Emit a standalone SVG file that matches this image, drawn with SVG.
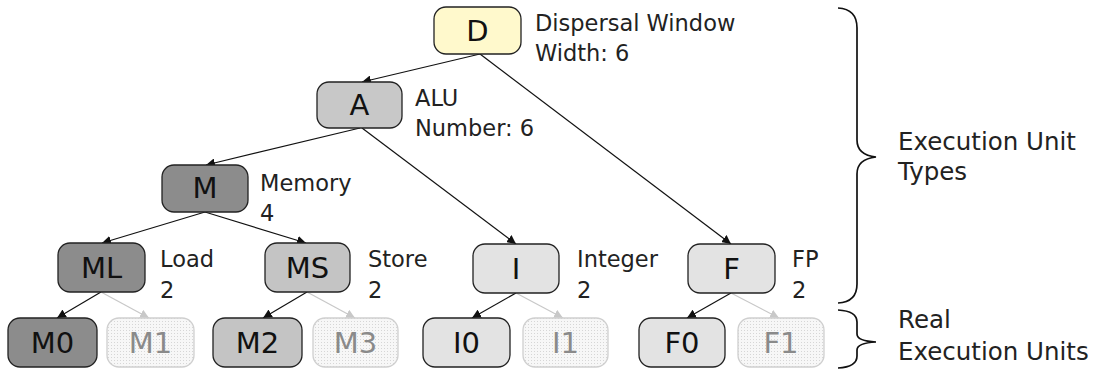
<svg xmlns="http://www.w3.org/2000/svg" width="1099" height="371" viewBox="0 0 1099 371">
<defs>
<marker id="ah" viewBox="0 0 10 10" refX="10" refY="5" markerWidth="9" markerHeight="9" markerUnits="userSpaceOnUse" orient="auto">
<path d="M0,0 L10,5 L0,10 z" fill="#111"/>
</marker>
<marker id="ahl" viewBox="0 0 10 10" refX="10" refY="5" markerWidth="9" markerHeight="9" markerUnits="userSpaceOnUse" orient="auto">
<path d="M0,0 L10,5 L0,10 z" fill="#c8c8c8"/>
</marker>
<pattern id="dots" width="3" height="3" patternUnits="userSpaceOnUse">
<rect width="3" height="3" fill="#f7f7f7"/>
<rect width="1" height="1" fill="#d6d6d6"/>
</pattern>
<style>
.box{stroke:#222;stroke-width:1.3}
.ghost{fill:url(#dots);stroke:#cfcfcf;stroke-width:1.3}
.nl{font-family:"DejaVu Sans",sans-serif;font-size:29px;fill:#111;text-anchor:middle}
.gl{font-family:"DejaVu Sans",sans-serif;font-size:29px;fill:#8a8a8a;text-anchor:middle}
.lb{font-family:"DejaVu Sans",sans-serif;font-size:22.5px;fill:#222}
.rb{font-family:"DejaVu Sans",sans-serif;font-size:24.5px;fill:#222}
.c{stroke:#111;stroke-width:1.2;fill:none;marker-end:url(#ah)}
.cl{stroke:#c8c8c8;stroke-width:1.2;fill:none;marker-end:url(#ahl)}
.br{stroke:#111;stroke-width:1.7;fill:none}
</style>
</defs>

<g id="connectors">
<line class="c" x1="480" y1="54" x2="362" y2="82"/>
<line class="c" x1="480" y1="54" x2="731" y2="244"/>
<line class="c" x1="360" y1="128" x2="206" y2="165"/>
<line class="c" x1="362" y1="128" x2="516" y2="244"/>
<line class="c" x1="205" y1="212" x2="102" y2="243"/>
<line class="c" x1="205" y1="212" x2="306" y2="243"/>
<line class="c" x1="101" y1="292" x2="57" y2="318"/>
<line class="cl" x1="101" y1="292" x2="149" y2="318"/>
<line class="c" x1="307" y1="292" x2="263" y2="318"/>
<line class="cl" x1="307" y1="292" x2="355" y2="318"/>
<line class="c" x1="516" y1="293" x2="472" y2="318"/>
<line class="cl" x1="516" y1="293" x2="563" y2="318"/>
<line class="c" x1="731" y1="293" x2="687" y2="318"/>
<line class="cl" x1="731" y1="293" x2="779" y2="318"/>
</g>

<g id="node-D">
<rect class="box" x="434" y="7" width="87" height="47" rx="12" fill="#fff9cc"/>
<text class="nl" x="477.5" y="41">D</text>
<text class="lb" x="535" y="31">Dispersal Window</text>
<text class="lb" x="535" y="61">Width: 6</text>
</g>
<g id="node-A">
<rect class="box" x="317" y="82" width="85" height="46" rx="12" fill="#c8c8c8"/>
<text class="nl" x="359.5" y="115">A</text>
<text class="lb" x="415" y="106">ALU</text>
<text class="lb" x="415" y="136">Number: 6</text>
</g>
<g id="node-M">
<rect class="box" x="162" y="165" width="86" height="47" rx="12" fill="#8c8c8c"/>
<text class="nl" x="205" y="198">M</text>
<text class="lb" x="260" y="191">Memory</text>
<text class="lb" x="260" y="221">4</text>
</g>
<g id="node-ML">
<rect class="box" x="58" y="243" width="87" height="49" rx="12" fill="#8c8c8c"/>
<text class="nl" x="101.5" y="278">ML</text>
<text class="lb" x="160" y="267">Load</text>
<text class="lb" x="160" y="298">2</text>
</g>
<g id="node-MS">
<rect class="box" x="265" y="243" width="85" height="49" rx="12" fill="#c4c4c4"/>
<text class="nl" x="307.5" y="278">MS</text>
<text class="lb" x="368" y="267">Store</text>
<text class="lb" x="368" y="298">2</text>
</g>
<g id="node-I">
<rect class="box" x="473" y="244" width="86" height="49" rx="12" fill="#e3e3e3"/>
<text class="nl" x="516" y="279">I</text>
<text class="lb" x="577" y="267">Integer</text>
<text class="lb" x="577" y="298">2</text>
</g>
<g id="node-F">
<rect class="box" x="688" y="244" width="87" height="49" rx="12" fill="#e3e3e3"/>
<text class="nl" x="731.5" y="279">F</text>
<text class="lb" x="792" y="267">FP</text>
<text class="lb" x="792" y="298">2</text>
</g>
<g id="node-M0">
<rect class="box" x="8" y="318" width="89" height="49" rx="12" fill="#8c8c8c"/>
<text class="nl" x="52.5" y="353">M0</text>
</g>
<g id="node-M1">
<rect class="ghost" x="107" y="318" width="87" height="49" rx="12"/>
<text class="gl" x="150.5" y="353">M1</text>
</g>
<g id="node-M2">
<rect class="box" x="213" y="318" width="89" height="49" rx="12" fill="#c4c4c4"/>
<text class="nl" x="257.5" y="353">M2</text>
</g>
<g id="node-M3">
<rect class="ghost" x="313" y="318" width="85" height="49" rx="12"/>
<text class="gl" x="355.5" y="353">M3</text>
</g>
<g id="node-I0">
<rect class="box" x="423" y="318" width="87" height="49" rx="12" fill="#e3e3e3"/>
<text class="nl" x="466.5" y="353">I0</text>
</g>
<g id="node-I1">
<rect class="ghost" x="523" y="318" width="85" height="49" rx="12"/>
<text class="gl" x="565.5" y="353">I1</text>
</g>
<g id="node-F0">
<rect class="box" x="639" y="318" width="86" height="49" rx="12" fill="#e3e3e3"/>
<text class="nl" x="682" y="353">F0</text>
</g>
<g id="node-F1">
<rect class="ghost" x="738" y="318" width="86" height="49" rx="12"/>
<text class="gl" x="781" y="353">F1</text>
</g>

<g id="brace-types">
<path class="br" d="M838,8 Q857,9 857,28 L857,140 Q857,155 876,157 Q857,159 857,174 L857,284 Q857,302 838,303"/>
<text class="rb" x="898" y="150">Execution Unit</text>
<text class="rb" x="898" y="180">Types</text>
</g>
<g id="brace-real">
<path class="br" d="M838,310 Q857,311 857,322 L857,334 Q857,341 876,342 Q857,343 857,350 L857,356 Q857,367 838,368"/>
<text class="rb" x="898" y="328">Real</text>
<text class="rb" x="898" y="360">Execution Units</text>
</g>
</svg>
